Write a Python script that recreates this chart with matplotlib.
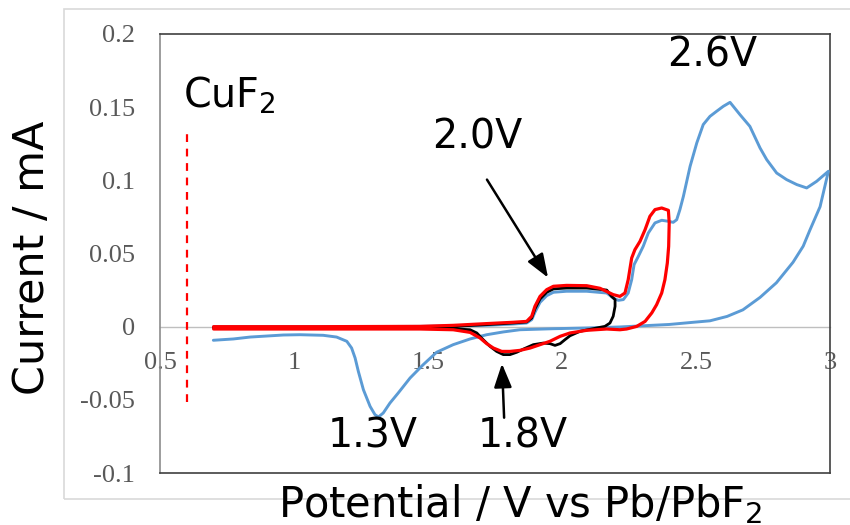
import matplotlib
matplotlib.use("Agg")
import matplotlib.pyplot as plt
from matplotlib.patches import Rectangle

plt.rcParams['font.family'] = ['DejaVu Sans']
plt.rcParams['mathtext.default'] = 'regular'

# blue CV: forward branch 0.7 -> 3.0, then reverse branch 3.0 -> 0.7
blue_v = [0.699, 0.774, 0.836, 0.960, 1.022, 1.109, 1.159, 1.197, 1.215, 1.228, 1.240,
          1.259, 1.284, 1.302, 1.315, 1.333, 1.358, 1.389, 1.433, 1.482, 1.532, 1.594,
          1.657, 1.719, 1.781, 1.843, 1.968, 2.092, 2.216, 2.30, 2.40, 2.49, 2.552,
          2.616, 2.675, 2.739, 2.80, 2.862, 2.90, 2.925, 2.963, 2.994,
          2.950, 2.913, 2.876, 2.838, 2.801, 2.764, 2.739, 2.701, 2.664, 2.627, 2.602,
          2.577, 2.552, 2.527, 2.503, 2.478, 2.453, 2.440, 2.428, 2.415, 2.397, 2.372,
          2.347, 2.322, 2.303, 2.285, 2.269, 2.260, 2.247, 2.229, 2.210, 2.191, 2.167,
          2.092, 2.017, 1.968, 1.943, 1.918, 1.899, 1.887, 1.868, 1.818, 1.719, 1.470,
          1.10, 0.70]
blue_i = [-0.0093, -0.0084, -0.0071, -0.0057, -0.0055, -0.0059, -0.0071, -0.0100, -0.0146,
          -0.0214, -0.0305, -0.0431, -0.0545, -0.0601, -0.0617, -0.0590, -0.0522, -0.0453,
          -0.0351, -0.0260, -0.0175, -0.0123, -0.0084, -0.0055, -0.0036, -0.0021, -0.0014,
          -0.0009, -0.0002, 0.0006, 0.0015, 0.0030, 0.0040, 0.0070, 0.0115, 0.0200, 0.0300,
          0.0440, 0.0550, 0.0660, 0.0820, 0.1062,
          0.0993, 0.0948, 0.0971, 0.1005, 0.1050, 0.1141, 0.1221, 0.1369, 0.1449, 0.1533,
          0.1506, 0.1472, 0.1437, 0.1381, 0.1256, 0.1096, 0.0891, 0.0800, 0.0731, 0.0713,
          0.0720, 0.0727, 0.0709, 0.0640, 0.0549, 0.0481, 0.0424, 0.0321, 0.0230, 0.0185,
          0.0180, 0.0196, 0.0230, 0.0242, 0.0242, 0.0235, 0.0212, 0.0166, 0.0098, 0.0048,
          0.0025, 0.0018, 0.0009, 0.0002, 0.0000, 0.0000]

# black CV
black_v = [0.70, 1.10, 1.470, 1.594, 1.657, 1.682, 1.706, 1.731, 1.756, 1.781, 1.806, 1.831,
           1.856, 1.893, 1.930, 1.955, 1.974, 1.993, 2.011, 2.030, 2.067, 2.129, 2.160,
           2.179, 2.191, 2.198, 2.198, 2.185,
           2.167, 2.092, 2.017, 1.968, 1.943, 1.918, 1.899, 1.887, 1.868, 1.818, 1.719,
           1.594, 1.470, 1.10, 0.70]
black_i = [-0.0008, -0.0008, -0.0009, -0.0014, -0.0021, -0.0043, -0.0089, -0.0134, -0.0169,
           -0.0191, -0.0191, -0.0175, -0.0153, -0.0123, -0.0112, -0.0116, -0.0128, -0.0116,
           -0.0089, -0.0062, -0.0032, -0.0009, 0.0002, 0.0025, 0.0071, 0.0139, 0.0185,
           0.0207,
           0.0250, 0.0264, 0.0264, 0.0258, 0.0235, 0.0189, 0.0121, 0.0059, 0.0032, 0.0025,
           0.0014, 0.0002, -0.0005, -0.0005, -0.0005]

# red CV
red_v = [0.70, 1.10, 1.470, 1.594, 1.657, 1.694, 1.719, 1.744, 1.775, 1.806, 1.843, 1.881,
         1.918, 1.955, 1.993, 2.030, 2.092, 2.167, 2.216, 2.241, 2.279, 2.310, 2.335, 2.353,
         2.372, 2.384, 2.393, 2.398, 2.400,
         2.397, 2.372, 2.347, 2.328, 2.310, 2.291, 2.272, 2.260, 2.247, 2.235, 2.216,
         2.191, 2.142, 2.092, 2.017, 1.968, 1.943, 1.918, 1.899, 1.887, 1.868, 1.818,
         1.719, 1.594, 1.470, 1.10, 0.70]
red_i = [-0.0016, -0.0016, -0.0016, -0.0021, -0.0039, -0.0077, -0.0116, -0.0146, -0.0169,
         -0.0169, -0.0162, -0.0146, -0.0123, -0.0100, -0.0066, -0.0043, -0.0025, -0.0016,
         -0.0021, -0.0016, 0.0002, 0.0036, 0.0094, 0.0150, 0.0230, 0.0321, 0.0435, 0.0549,
         0.0709,
         0.0795, 0.0811, 0.0800, 0.0754, 0.0663, 0.0583, 0.0526, 0.0469, 0.0321, 0.0230,
         0.0207, 0.0219, 0.0262, 0.0280, 0.0282, 0.0276, 0.0253, 0.0207, 0.0139, 0.0071,
         0.0036, 0.0030, 0.0021, 0.0009, 0.0002, 0.0000, 0.0000]

xticks = [0.5, 1, 1.5, 2, 2.5, 3]
xtick_labels = ['0.5', '1', '1.5', '2', '2.5', '3']
yticks = [-0.1, -0.05, 0, 0.05, 0.1, 0.15, 0.2]
ytick_labels = ['-0.1', '-0.05', '0', '0.05', '0.1', '0.15', '0.2']

# peak labels: (text, x, y baseline)
peak_labels = [('2.6V', 2.392, 0.178), ('2.0V', 1.515, 0.1217),
               ('1.3V', 1.127, -0.0827), ('1.8V', 1.687, -0.0827)]
arrows = [((1.948, 0.0335), (1.72, 0.1005)), ((1.776, -0.0253), (1.784, -0.0622))]
cuf2_x = 0.6
cuf2_y = (-0.0513, 0.136)

fig = plt.figure(figsize=(8.5, 5.25), dpi=100)
ax = fig.add_axes([160/850, 1 - 473/525, 670/850, 439/525])

ax.plot(blue_v, blue_i, color='#5B9BD5', lw=2.1, solid_joinstyle='round',
        solid_capstyle='round', zorder=3)
ax.plot(black_v, black_i, color='black', lw=2.0, solid_joinstyle='round',
        solid_capstyle='round', zorder=4)
ax.plot(red_v, red_i, color='#FF0000', lw=2.3, solid_joinstyle='round',
        solid_capstyle='round', zorder=5)

ax.set_xlim(0.5, 3)
ax.set_ylim(-0.1, 0.2)

ax.set_yticks(yticks)
ax.set_yticklabels(ytick_labels)
ax.set_xticks([])
ax.tick_params(axis='y', length=0, pad=18, labelsize=19, labelcolor='#595959')
for lab in ax.get_yticklabels():
    lab.set_fontfamily('Liberation Serif')

# x axis crosses at y = 0
sec = ax.secondary_xaxis(1/3)
sec.set_xticks(xticks)
sec.set_xticklabels(xtick_labels)
sec.tick_params(axis='x', length=0, pad=18.5, labelsize=19, labelcolor='#595959')
for lab in sec.get_xticklabels():
    lab.set_fontfamily('Liberation Serif')
sec.spines['bottom'].set_color('#BFBFBF')
sec.spines['bottom'].set_linewidth(1.0)

for side in ['top', 'right', 'bottom']:
    ax.spines[side].set_color('#404040')
    ax.spines[side].set_linewidth(1.2)
ax.spines['left'].set_color('#8C8C8C')
ax.spines['left'].set_linewidth(1.2)

# CuF2 marker
ax.plot([cuf2_x, cuf2_x], cuf2_y, color='#FF0000', lw=1.6, linestyle=(0, (3.5, 3)))
ax.text(0.586, 0.150, 'CuF$_2$', fontsize=28.5, ha='left', va='baseline')

for txt, x, y in peak_labels:
    ax.text(x, y, txt, fontsize=28.5, ha='left', va='baseline', zorder=6)

for tip, tail in arrows:
    ax.annotate('', xy=tip, xytext=tail,
                arrowprops=dict(arrowstyle='-|>,head_length=0.72,head_width=0.27',
                                color='black', lw=1.8, mutation_scale=20,
                                shrinkA=0, shrinkB=0))

fig.text(32/850, 1 - 258/525, 'Current / mA', rotation=90, ha='center', va='center',
         fontsize=31)
fig.text(520/850, 1 - 517/525, 'Potential / V vs Pb/PbF$_2$', ha='center', va='baseline',
         fontsize=30)

fig.add_artist(Rectangle((64/850, 1 - 499/525), 1.0, (499 - 9)/525, fill=False,
                         edgecolor='#D9D9D9', lw=1.2, transform=fig.transFigure,
                         clip_on=False, zorder=-1))

fig.savefig('out.png', dpi=100)
